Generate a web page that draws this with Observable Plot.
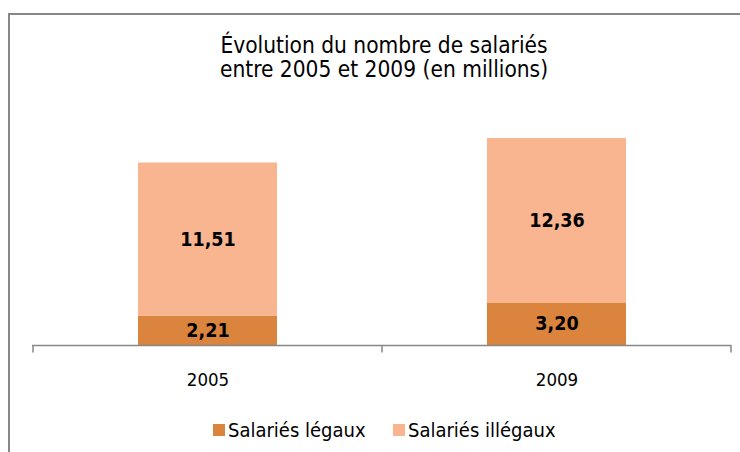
<!DOCTYPE html>
<html><head><meta charset="utf-8">
<script src="https://cdn.jsdelivr.net/npm/d3@7"></script>
<script src="https://cdn.jsdelivr.net/npm/@observablehq/plot@0.6"></script>
<style>
html,body{margin:0;padding:0;background:#fff;}
body{width:740px;height:452px;overflow:hidden;position:relative;font-family:"DejaVu Sans Condensed","DejaVu Sans",sans-serif;font-stretch:condensed;color:#000;}
#frame{position:absolute;left:8px;top:13px;width:800px;height:500px;border:2px solid #878787;box-sizing:border-box;}
#title{position:absolute;left:0;top:33px;width:768px;text-align:center;font-size:22.5px;line-height:24px;}
#chart{position:absolute;left:0;top:0;}
#legend{position:absolute;top:418px;left:0;width:740px;height:24px;}
.item{position:absolute;top:0;height:24px;font-size:20px;line-height:24px;white-space:nowrap;}
.sw{position:absolute;top:6px;width:12px;height:12px;}
.lbl{position:absolute;left:15px;top:0;}
</style></head>
<body>
<div id="frame"></div>
<div id="title">Évolution du nombre de salariés<br>entre 2005 et 2009 (en millions)</div>
<div id="chart"></div>
<div id="legend"></div>
<script>
const years = ["2005", "2009"];
const series = ["Salariés légaux", "Salariés illégaux"];
const legal = [2.21, 3.20];
const illegal = [11.51, 12.36];
const colors = ["#DB843D", "#F9B590"];

const data = [];
years.forEach((y, i) => {
  data.push({year: y, type: series[0], value: legal[i]});
  data.push({year: y, type: series[1], value: illegal[i]});
});
const fmt = v => d3.format(".2f")(v).replace(".", ",");

function boundaryTicks(index, scales) {
  const x = scales.x, y = scales.y;
  const bw = x.bandwidth ? x.bandwidth() : 0;
  const step = x(years[1]) - x(years[0]);
  const pos = [x(years[0]) + bw / 2 - step / 2];
  years.forEach(yr => pos.push(x(yr) + bw / 2 + step / 2));
  const g = d3.create("svg:g").attr("stroke", "#878787").attr("stroke-width", 1.5);
  const y0 = y(0);
  pos.forEach(p => g.append("line").attr("x1", p).attr("x2", p).attr("y1", y0).attr("y2", y0 + 7.5));
  return g.node();
}

const chart = Plot.plot({
  width: 740,
  height: 400,
  marginLeft: 32,
  marginRight: 9,
  marginTop: 79,
  marginBottom: 55,
  style: {background: "transparent", fontFamily: '"DejaVu Sans Condensed","DejaVu Sans",sans-serif'},
  x: {type: "band", domain: years, paddingInner: 0.602, paddingOuter: 0.301, label: null},
  y: {domain: [0, 20], axis: null},
  color: {domain: series, range: colors},
  marks: [
    Plot.barY(data, {x: "year", y: "value", fill: "type"}),
    Plot.text(data, Plot.stackY({x: "year", y: "value", z: "type", text: d => fmt(d.value), fontSize: 19.5, fontWeight: "bold", fill: "#000", letterSpacing: "1.5px"})),
    Plot.ruleY([0], {stroke: "#878787", strokeWidth: 1.5}),
    boundaryTicks,
    Plot.axisX({tickSize: 0, tickPadding: 27, fontSize: 18.5, fill: "#000", label: null})
  ]
});
document.getElementById("chart").appendChild(chart);

const legend = document.getElementById("legend");
const lefts = [213, 393];
series.forEach((s, i) => {
  const it = document.createElement("div");
  it.className = "item";
  it.style.left = lefts[i] + "px";
  it.innerHTML = `<div class="sw" style="background:${colors[i]}"></div><div class="lbl">${s}</div>`;
  legend.appendChild(it);
});
</script>
</body></html>
